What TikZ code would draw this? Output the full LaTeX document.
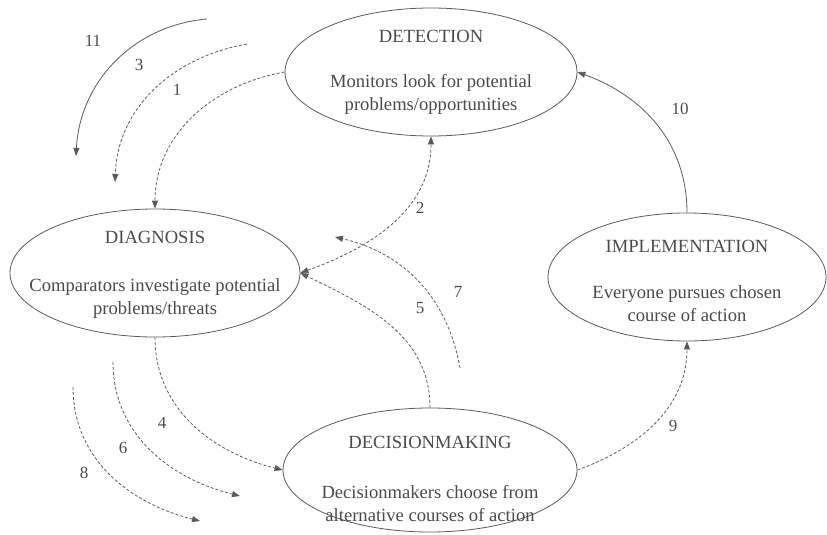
\documentclass[tikz,border=0pt]{standalone}
\usepackage{fontspec}
\setmainfont{Liberation Serif}
\usetikzlibrary{shapes.geometric,arrows.meta}
\definecolor{linec}{HTML}{5A5A5A}
\definecolor{textc}{HTML}{4A4A4A}
\begin{document}
\begin{tikzpicture}[x=1pt,y=1pt,
  stage/.style={draw=linec, line width=0.8pt, ellipse, inner sep=0pt},
  txt/.style={align=center, font=\fontsize{18.6}{23}\selectfont, text=textc},
  num/.style={font=\fontsize{17}{20}\selectfont, text=textc},
  flow/.style={draw=linec, line width=0.8pt, -{Triangle[length=8pt,width=6pt]}},
  dflow/.style={flow, dash pattern=on 3pt off 2pt},
]
\useasboundingbox (0,0) rectangle (827,-535);

\node[stage, minimum width=292pt, minimum height=128pt,
  label={[txt]center:{DETECTION\\[22pt]Monitors look for potential\\problems/opportunities}}]
  (det) at (431,-72) {};
\node[stage, minimum width=290pt, minimum height=128pt,
  label={[txt,yshift=-2pt]center:{DIAGNOSIS\\[25pt]Comparators investigate potential\\problems/threats}}]
  (diag) at (155,-273) {};
\node[stage, minimum width=278pt, minimum height=128pt,
  label={[txt,yshift=-4pt]center:{IMPLEMENTATION\\[23pt]Everyone pursues chosen\\course of action}}]
  (imp) at (687,-277) {};
\node[stage, minimum width=294pt, minimum height=124pt,
  label={[txt,yshift=-9pt]center:{DECISIONMAKING\\[27pt]Decisionmakers choose from\\alternative courses of action}}]
  (dec) at (430,-470) {};

% free ends
\coordinate (s3) at (247,-44);
\coordinate (e3) at (115,-182);
\coordinate (s11) at (207,-19);
\coordinate (e11) at (76,-156);
\coordinate (s7) at (460,-368);
\coordinate (e7) at (335,-237);
\coordinate (s6) at (113,-362);
\coordinate (e6) at (240,-496);
\coordinate (s8) at (73,-387);
\coordinate (e8) at (200,-521);

% connectors
\draw[dflow] (det.west) to[out=190,in=90] (diag.north);
\draw[dflow] (s3) to[out=190,in=88] (e3);
\draw[flow] (s11) to[out=185,in=87] (e11);
\draw[dflow, {Triangle[length=8pt,width=6pt]}-{Triangle[length=8pt,width=6pt]}] (diag.east) to[out=20,in=-90] (det.south);
\draw[dflow] (dec.north) to[out=90,in=-26] (diag.east);
\draw[dflow] (s7) to[out=100,in=-13] (e7);
\draw[dflow] (diag.south) to[out=-90,in=166] (dec.west);
\draw[dflow] (s6) to[out=-90,in=166] (e6);
\draw[dflow] (s8) to[out=-90,in=166] (e8);
\draw[dflow] (dec.east) to[out=20,in=-90] (imp.south);
\draw[flow] (imp.north) to[out=90,in=-20] (det.east);

% labels
\node[num] (n1) at (177,-90) {1};
\node[num] (n2) at (420,-208) {2};
\node[num] (n3) at (139,-65) {3};
\node[num] (n4) at (162,-423) {4};
\node[num] (n5) at (420,-308) {5};
\node[num] (n6) at (123,-448) {6};
\node[num] (n7) at (458,-292) {7};
\node[num] (n8) at (84,-473) {8};
\node[num] (n9) at (673,-426) {9};
\node[num] (n10) at (680,-109) {10};
\node[num] (n11) at (93,-41) {11};
\end{tikzpicture}
\end{document}
